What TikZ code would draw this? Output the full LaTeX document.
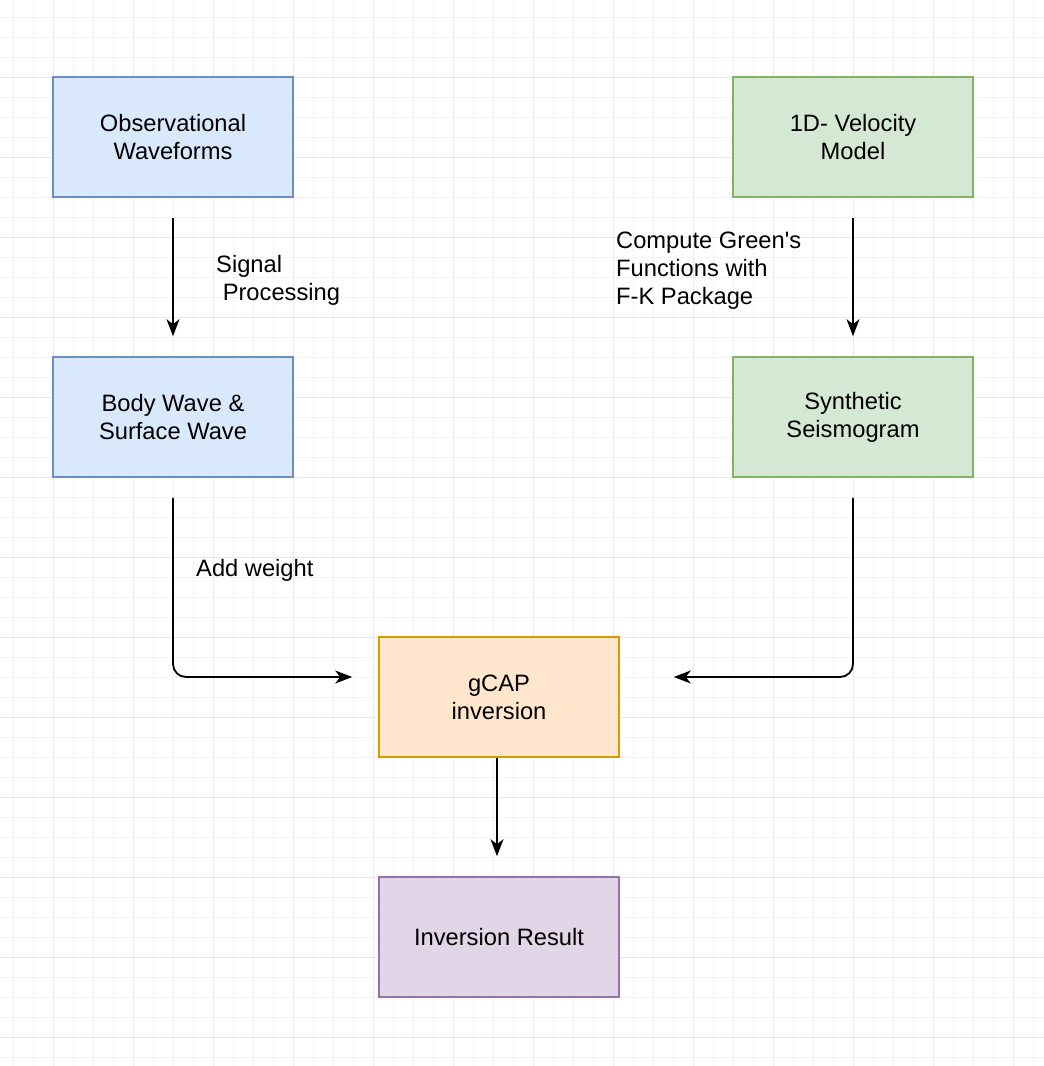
\documentclass[tikz,border=0pt]{standalone}
\usepackage{fontspec}
\setmainfont{Liberation Sans}
\usetikzlibrary{arrows.meta}
\definecolor{bfill}{HTML}{DAE8FC}\definecolor{bdraw}{HTML}{6C8EBF}
\definecolor{gfill}{HTML}{D5E8D4}\definecolor{gdraw}{HTML}{82B366}
\definecolor{ofill}{HTML}{FFE6CC}\definecolor{odraw}{HTML}{D79B00}
\definecolor{pfill}{HTML}{E1D5E7}\definecolor{pdraw}{HTML}{9673A6}
\definecolor{gridminor}{HTML}{F4F4F4}\definecolor{gridmajor}{HTML}{E8E8E8}
\tikzset{
  box/.style={draw, line width=1.6pt, minimum width=240pt, minimum height=120pt,
    align=center, font=\fontsize{23.7}{28}\selectfont, inner sep=0pt},
  lbl/.style={align=left, font=\fontsize{23.7}{28}\selectfont, inner sep=0pt, anchor=west},
  arr/.style={line width=1.8pt, -{Stealth[length=17pt,width=13pt,inset=5pt]}, rounded corners=13pt},
}
\begin{document}
\begin{tikzpicture}[x=1pt,y=-1pt]
\useasboundingbox (0,0) rectangle (1044,1066);
\fill[white] (0,0) rectangle (1044,1066);
% minor grid
\foreach \x in {13,33,...,1044} \draw[gridminor, line width=1pt] (\x,0) -- (\x,1066);
\foreach \y in {17,37,...,1066} \draw[gridminor, line width=1pt] (0,\y) -- (1044,\y);
% major grid
\foreach \x in {53,133,...,1044} \draw[gridmajor, line width=1pt] (\x,0) -- (\x,1066);
\foreach \y in {77,157,...,1066} \draw[gridmajor, line width=1pt] (0,\y) -- (1044,\y);

\node[box, fill=bfill, draw=bdraw] (obs) at (173,137) {Observational\\Waveforms};
\node[box, fill=bfill, draw=bdraw] (body) at (173,417) {Body Wave \&\\Surface Wave};
\node[box, fill=gfill, draw=gdraw] (vel) at (853,137) {1D- Velocity\\Model};
\node[box, fill=gfill, draw=gdraw] (syn) at (853,417) {Synthetic\\Seismogram};
\node[box, fill=ofill, draw=odraw] (gcap) at (499,697) {gCAP\\inversion};
\node[box, fill=pfill, draw=pdraw] (res) at (499,937) {Inversion Result};

\node[lbl] (l1) at (216,280) {Signal\\\ Processing};
\node[lbl] (l2) at (616,271) {Compute Green\textquotesingle s\\Functions with\\F-K Package};
\node[lbl] (l3) at (196,570) {Add weight};

\draw[arr] ([yshift=-20pt]obs.south) -- ([yshift=20pt]body.north);
\draw[arr] ([yshift=-20pt]vel.south) -- ([yshift=20pt]syn.north);
\draw[arr] ([yshift=-20pt]body.south) |- ([xshift=-26pt,yshift=20pt]gcap.west);
\draw[arr] ([yshift=-20pt]syn.south) |- ([xshift=54pt,yshift=20pt]gcap.east);
\draw[arr] ([xshift=-2pt]gcap.south) -- ([xshift=-2pt,yshift=20pt]res.north);
\end{tikzpicture}
\end{document}
